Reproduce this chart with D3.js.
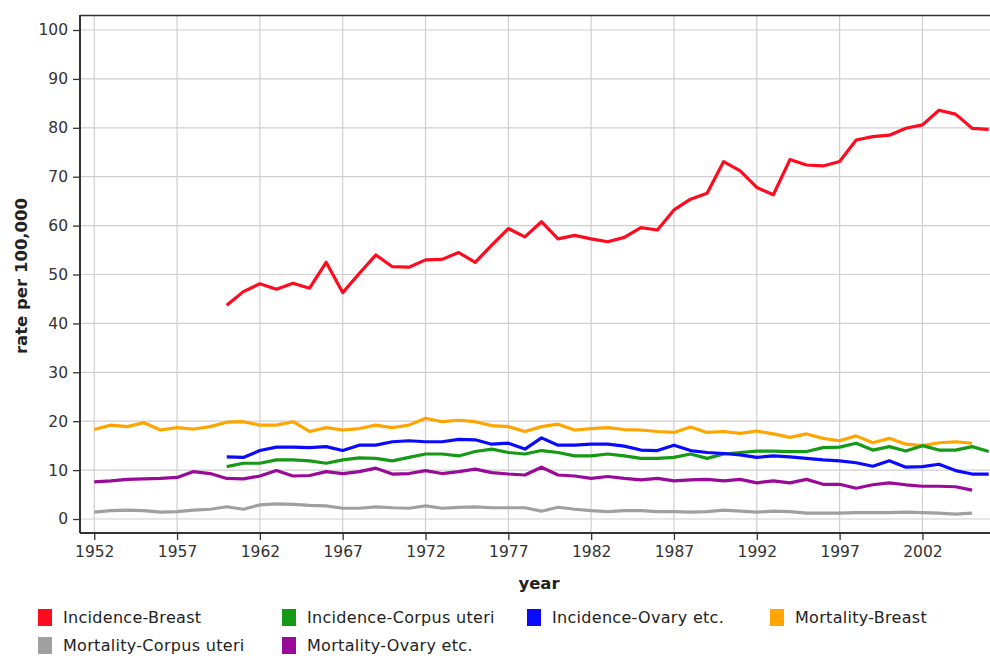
<!DOCTYPE html>
<html><head><meta charset="utf-8">
<script src="https://cdn.jsdelivr.net/npm/d3@7"></script>
<style>
body{margin:0;background:#fff;}
svg{display:block;font-family:"DejaVu Sans",sans-serif;}
</style></head>
<body><svg id="c" width="990" height="656"></svg>
<script>
const seriesNames = ["Incidence-Breast","Incidence-Corpus uteri","Incidence-Ovary etc.","Mortality-Breast","Mortality-Corpus uteri","Mortality-Ovary etc."];
const seriesColors = ["#ff0a1e","#169a16","#0a0aff","#ffa500","#a0a0a0","#990a99"];
const xTicks = [1952,1957,1962,1967,1972,1977,1982,1987,1992,1997,2002];
const yTicks = [0,10,20,30,40,50,60,70,80,90,100];

const incStart = 1960, mortStart = 1952;
const incBreast = [43.7,46.5,48.1,47.0,48.2,47.2,52.5,46.3,50.2,54.0,51.6,51.5,53.0,53.1,54.5,52.5,56.0,59.4,57.7,60.8,57.3,58.0,57.3,56.7,57.6,59.6,59.1,63.2,65.4,66.6,73.1,71.2,67.8,66.3,73.5,72.4,72.2,73.1,77.5,78.2,78.5,79.9,80.6,83.6,82.8,79.9,79.7];
const incCorpus = [10.7,11.4,11.4,12.1,12.1,11.9,11.4,12.1,12.5,12.4,11.9,12.6,13.3,13.3,12.9,13.8,14.3,13.6,13.3,14.0,13.6,12.9,12.9,13.3,12.9,12.4,12.4,12.6,13.3,12.4,13.3,13.6,13.9,13.9,13.8,13.8,14.6,14.7,15.5,14.1,14.8,13.9,15.0,14.1,14.1,14.8,13.8];
const incOvary = [12.7,12.6,14.0,14.7,14.7,14.6,14.8,14.0,15.1,15.1,15.8,16.0,15.8,15.8,16.3,16.2,15.3,15.5,14.3,16.6,15.1,15.1,15.3,15.3,14.9,14.1,14.0,15.1,14.0,13.6,13.4,13.1,12.6,12.9,12.7,12.4,12.1,11.9,11.5,10.8,11.9,10.6,10.7,11.2,9.9,9.2,9.2];
const mortBreast = [18.3,19.2,18.9,19.7,18.2,18.7,18.4,18.9,19.8,19.9,19.2,19.2,19.9,17.9,18.7,18.2,18.5,19.2,18.7,19.2,20.6,19.9,20.2,19.9,19.1,18.9,17.9,18.9,19.4,18.2,18.5,18.7,18.3,18.2,17.9,17.7,18.8,17.7,17.9,17.5,18.0,17.4,16.7,17.4,16.5,16.0,17.0,15.6,16.5,15.3,15.0,15.6,15.8,15.5];
const mortCorpus = [1.4,1.7,1.8,1.7,1.4,1.5,1.8,2.0,2.5,2.0,2.9,3.1,3.0,2.8,2.7,2.2,2.2,2.5,2.3,2.2,2.7,2.2,2.4,2.5,2.3,2.3,2.3,1.6,2.4,2.0,1.7,1.5,1.7,1.7,1.5,1.5,1.4,1.5,1.8,1.6,1.4,1.6,1.5,1.2,1.2,1.2,1.3,1.3,1.3,1.4,1.3,1.2,1.0,1.2];
const mortOvary = [7.6,7.8,8.1,8.2,8.3,8.5,9.7,9.3,8.3,8.2,8.8,9.9,8.8,8.9,9.7,9.3,9.7,10.4,9.2,9.3,9.9,9.3,9.7,10.2,9.5,9.2,9.0,10.6,9.0,8.8,8.3,8.7,8.3,8.0,8.3,7.8,8.0,8.1,7.8,8.1,7.4,7.8,7.4,8.1,7.1,7.1,6.3,7.0,7.4,7.0,6.7,6.7,6.6,5.9];

const seriesData = [incBreast,incCorpus,incOvary,mortBreast,mortCorpus,mortOvary];
const seriesStart = [incStart,incStart,incStart,mortStart,mortStart,mortStart];

const FONT = "'DejaVu Sans',sans-serif";
const svg = d3.select("#c");
const L = 80, T = 15, R = 992, B = 533;
const x = d3.scaleLinear().domain([1951.14, 2006.2]).range([L, R]);
const y = d3.scaleLinear().domain([-2.86, 103.07]).range([B, T]);

// grid
const g = svg.append("g");
g.selectAll(".hg").data(yTicks).join("line")
  .attr("x1", L).attr("x2", R).attr("y1", d=>y(d)).attr("y2", d=>y(d))
  .attr("stroke", "#cfcfcf").attr("stroke-width", 1.2);
g.selectAll(".vg").data(xTicks).join("line")
  .attr("y1", T).attr("y2", B).attr("x1", d=>x(d)).attr("x2", d=>x(d))
  .attr("stroke", "#cfcfcf").attr("stroke-width", 1.2);

// frame top
svg.append("line").attr("x1", L).attr("x2", R).attr("y1", T+0.5).attr("y2", T+0.5)
  .attr("stroke", "#333").attr("stroke-width", 1.5);

// axes
const yAxis = d3.axisLeft(y).tickValues(yTicks).tickSize(7).tickPadding(5);
const ya = svg.append("g").attr("transform", `translate(${L},0)`).call(yAxis);
const xAxis = d3.axisBottom(x).tickValues(xTicks).tickFormat(d3.format("d")).tickSize(7).tickPadding(6);
const xa = svg.append("g").attr("transform", `translate(0,${B})`).call(xAxis);
[ya, xa].forEach(a => {
  a.select(".domain").attr("stroke", "#333").attr("stroke-width", 2);
  a.selectAll(".tick line").attr("stroke", "#333").attr("stroke-width", 1.3);
  a.selectAll(".tick text").attr("font-size", 15.5).attr("fill", "#333")
    .attr("font-family", FONT);
});
ya.select(".domain").attr("d", `M0,${T}V${B}`);
xa.select(".domain").attr("d", `M${L},0H${R}`);

// lines
svg.append("defs").append("clipPath").attr("id", "clp")
  .append("rect").attr("x", L).attr("y", T).attr("width", R-L).attr("height", B-T);
const lg = svg.append("g").attr("clip-path", "url(#clp)");
const line = d3.line().x(d=>x(d[0])).y(d=>y(d[1]));
const order = [4,5,3,1,2,0];
order.forEach(i => {
  const pts = seriesData[i].map((v,k)=>[seriesStart[i]+k, v]);
  lg.append("path").datum(pts).attr("d", line)
    .attr("fill", "none").attr("stroke", seriesColors[i])
    .attr("stroke-width", 3.2).attr("stroke-linejoin", "round");
});

// axis titles
svg.append("text").attr("transform", `translate(27,276) rotate(-90)`)
  .attr("text-anchor", "middle").attr("font-weight", "bold").attr("font-size", 16.5)
  .attr("font-family", FONT).attr("fill", "#222").text("rate per 100,000");
svg.append("text").attr("x", 539).attr("y", 589)
  .attr("text-anchor", "middle").attr("font-weight", "bold").attr("font-size", 16.5)
  .attr("font-family", FONT).attr("fill", "#222").text("year");

// legend
const legX = [38, 282, 527, 770, 38, 282];
const legY = [617, 617, 617, 617, 645, 645];
const leg = svg.append("g");
seriesNames.forEach((n,i) => {
  leg.append("rect").attr("x", legX[i]).attr("y", legY[i]-8).attr("width", 14).attr("height", 17)
    .attr("fill", seriesColors[i]);
  leg.append("text").attr("x", legX[i]+25).attr("y", legY[i]+6)
    .attr("font-size", 16).attr("letter-spacing", 0.3).attr("font-family", FONT)
    .attr("fill", "#222").text(n);
});
</script></body></html>
